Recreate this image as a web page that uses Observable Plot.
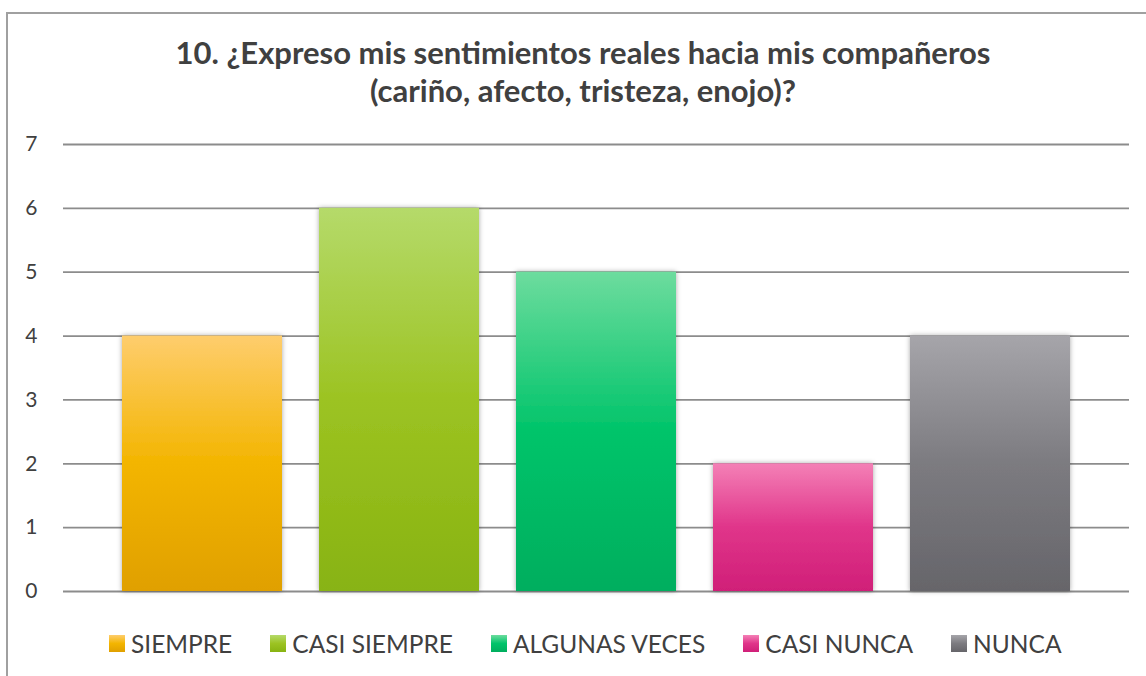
<!DOCTYPE html>
<html>
<head>
<meta charset="utf-8">
<script src="https://cdn.jsdelivr.net/npm/d3@7"></script>
<script src="https://cdn.jsdelivr.net/npm/@observablehq/plot@0.6"></script>
<style>
  html, body { margin: 0; padding: 0; background: #fff; overflow: hidden; }
  body { width: 1146px; height: 676px; position: relative; font-family: Lato, "Open Sans", sans-serif; color: #404040; }
  #frame { position: absolute; left: 6px; top: 12px; width: 1160px; height: 700px; border: 2px solid #a0a0a0; box-sizing: border-box; }
  #title { position: absolute; left: 0; width: 1166px; top: 33px; text-align: center; font-weight: bold; font-size: 31px; line-height: 38px; color: #404040; }
  #chart { position: absolute; left: 0; top: 120px; }
  #legend { position: absolute; left: 109px; top: 629px; display: flex; align-items: center; font-size: 24.5px; color: #404040; white-space: nowrap; }
  .item { display: flex; align-items: center; margin-right: 38px; }
  .sw { width: 16px; height: 17px; margin-right: 6px; }
</style>
</head>
<body>
<div id="frame"></div>
<div id="title">10. ¿Expreso mis sentimientos reales hacia mis compañeros<br>(cariño, afecto, tristeza, enojo)?</div>
<div id="chart"></div>
<div id="legend"></div>
<script>
const categories = ["SIEMPRE", "CASI SIEMPRE", "ALGUNAS VECES", "CASI NUNCA", "NUNCA"];
const values = [4, 6, 5, 2, 4];
const yTicks = [0, 1, 2, 3, 4, 5, 6, 7];
const gradTop = ["#fecd6d", "#b5da6a", "#6ddc9e", "#f480b6", "#a6a5aa"];
const gradMid = ["#f3b500", "#9cc322", "#00c46a", "#e0358a", "#7c7b80"];
const gradBot = ["#e0a000", "#88b312", "#00ae5e", "#d01f78", "#66656a"];

const data = categories.map((c, i) => ({cat: c, value: values[i], fill: `url(#grad${i})`}));

const plot = Plot.plot({
  width: 1146,
  height: 500,
  marginLeft: 63,
  marginRight: 17,
  marginTop: 24,
  marginBottom: 29,
  style: {fontFamily: "Lato, 'Open Sans', sans-serif", fontSize: "21px", color: "#404040", background: "transparent", overflow: "visible"},
  x: {domain: categories, paddingInner: 0.19, paddingOuter: 0.29, axis: null},
  y: {domain: [0, 7], ticks: yTicks, label: null},
  color: {type: "identity"},
  marks: [
    Plot.ruleY(yTicks, {stroke: "#8c8c8c", strokeWidth: 1.8}),
    Plot.barY(data, {x: "cat", y: "value", fill: "fill"}),
    Plot.axisY(yTicks, {tickSize: 0, tickPadding: 26, tickFormat: "d", label: null, textAnchor: "end", fill: "#404040", fontSize: 21})
  ]
});

const svg = d3.select(plot);
const defs = svg.insert("defs", ":first-child");
categories.forEach((c, i) => {
  const g = defs.append("linearGradient").attr("id", `grad${i}`).attr("x1", 0).attr("y1", 0).attr("x2", 0).attr("y2", 1);
  g.append("stop").attr("offset", "0%").attr("stop-color", gradTop[i]);
  g.append("stop").attr("offset", "50%").attr("stop-color", gradMid[i]);
  g.append("stop").attr("offset", "100%").attr("stop-color", gradBot[i]);
});
const f = defs.append("filter").attr("id", "shadow").attr("x", "-10%").attr("y", "-10%").attr("width", "120%").attr("height", "120%");
f.append("feDropShadow").attr("dx", 0).attr("dy", 0).attr("stdDeviation", 2.5).attr("flood-color", "#000").attr("flood-opacity", 0.35);
svg.selectAll("rect").filter(function() { return (this.getAttribute("fill") || "").startsWith("url"); }).attr("filter", "url(#shadow)");

document.getElementById("chart").appendChild(plot);

const legend = d3.select("#legend");
categories.forEach((c, i) => {
  const it = legend.append("div").attr("class", "item");
  it.append("div").attr("class", "sw").style("background", `linear-gradient(${gradTop[i]}, ${gradMid[i]} 50%, ${gradBot[i]})`);
  it.append("span").text(c);
});
</script>
</body>
</html>
